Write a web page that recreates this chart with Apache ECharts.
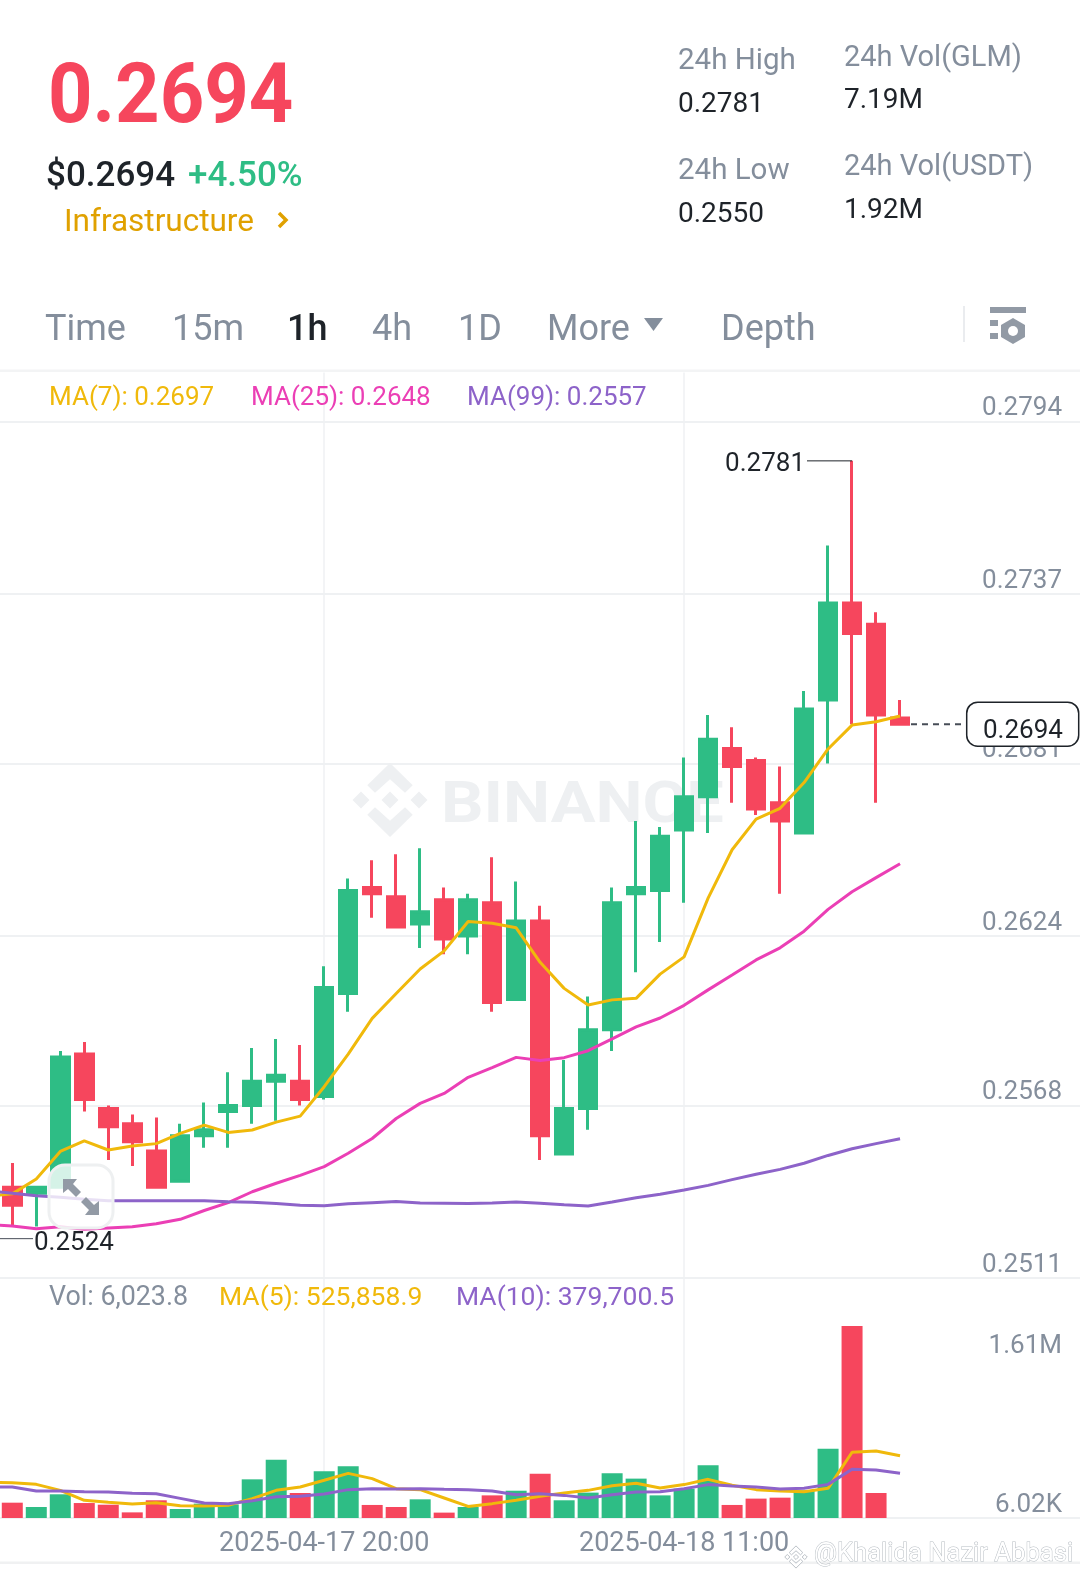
<!DOCTYPE html>
<html>
<head>
<meta charset="utf-8">
<title>GLM/USDT 1h</title>
<style>
html, body { margin: 0; padding: 0; background: #fff; }
#chart { width: 1080px; height: 1577px; }
</style>
<script src="https://cdn.jsdelivr.net/npm/echarts@6/dist/echarts.min.js"></script>
</head>
<body>
<div id="chart"></div>
<script>
// first slot sits just left of the screen, it carries the 0.2524 low and the line starts
const categories = [
  '2025-04-17 06:00','2025-04-17 07:00','2025-04-17 08:00','2025-04-17 09:00','2025-04-17 10:00','2025-04-17 11:00',
  '2025-04-17 12:00','2025-04-17 13:00','2025-04-17 14:00','2025-04-17 15:00','2025-04-17 16:00','2025-04-17 17:00',
  '2025-04-17 18:00','2025-04-17 19:00','2025-04-17 20:00','2025-04-17 21:00','2025-04-17 22:00','2025-04-17 23:00',
  '2025-04-18 00:00','2025-04-18 01:00','2025-04-18 02:00','2025-04-18 03:00','2025-04-18 04:00','2025-04-18 05:00',
  '2025-04-18 06:00','2025-04-18 07:00','2025-04-18 08:00','2025-04-18 09:00','2025-04-18 10:00','2025-04-18 11:00',
  '2025-04-18 12:00','2025-04-18 13:00','2025-04-18 14:00','2025-04-18 15:00','2025-04-18 16:00','2025-04-18 17:00',
  '2025-04-18 18:00','2025-04-18 19:00','2025-04-18 20:00','2025-04-18 21:00','2025-04-18 22:00','2025-04-18 23:00',
  '2025-04-19 00:00','2025-04-19 01:00','2025-04-19 02:00','2025-04-19 03:00'
];
const shownTimes = ['2025-04-17 20:00', '2025-04-18 11:00'];

const opens = [.2546,.2541,.2539,.2541,.2585,.2567,.2562,.2553,.2543,.2558,.2566,.2568,.2576,.2576,.2571,.2605,.2640,.2637,.2628,.2636,.2624,.2635,.2603,.2629,.2552,.2567,.2593,.2638,.2639,.2659,.2670,.2686,.2682,.2668,.2658,.2702,.2734,.2727,.2696];
const closes = [.2541,.2535,.2541,.2584,.2570,.2561,.2556,.2541,.2558,.2560,.2568,.2576,.2578,.2570,.2607,.2639,.2638,.2627,.2632,.2623,.2636,.2602,.2629,.2558,.2567,.2593,.2635,.2640,.2657,.2670,.2689,.2680,.2666,.2662,.2699,.2734,.2724,.2697,.2694];
const lows = [.2524,.2528,.2528,.2541,.2566,.2550,.2548,.2541,.2543,.2554,.2554,.2562,.2563,.2568,.2570,.2599,.2630,.2627,.2620,.2618,.2618,.2599,.2603,.2550,.2552,.2560,.2586,.2612,.2622,.2635,.2658,.2668,.2664,.2638,.2658,.2681,.2694,.2668,.2694];
const highs = [.2549,.2549,.2541,.2586,.2589,.2568,.2565,.2564,.2562,.2569,.2579,.2587,.2590,.2588,.2614,.2643,.2649,.2651,.2653,.2640,.2638,.2650,.2642,.2634,.2583,.2604,.2640,.2662,.2660,.2683,.2697,.2693,.2683,.2680,.2705,.2753,.2781,.2731,.2702];

const ma7 = [.25381,.25388,.25437,.25528,.25563,.25533,.25546,.25554,.25588,.25615,.25591,.25599,.25625,.25645,.25742,.2585,.25968,.2605,.26131,.26191,.26288,.26282,.26267,.26153,.26067,.26012,.26029,.26034,.26114,.26171,.26365,.26525,.26626,.26662,.26747,.26858,.26937,.26948,.26967];
const ma25 = [.25287,.25282,.25273,.25279,.25271,.25275,.25279,.25289,.25304,.25333,.25359,.25395,.25423,.25449,.25478,.25522,.25571,.25637,.25687,.2572,.25773,.25805,.25839,.25829,.25838,.25861,.259,.2594,.25969,.26011,.26062,.26111,.26161,.26201,.26256,.26328,.26386,.26433,.26479];
const ma99 = [.25398,.2539,.25382,.25377,.2537,.25365,.25365,.25365,.25365,.25365,.25362,.2536,.25356,.2535,.25349,.25355,.25359,.25363,.25358,.25357,.25356,.25358,.25361,.25357,.25352,.25348,.25361,.25375,.25387,.25401,.25416,.25435,.25453,.25469,.25489,.25515,.25537,.25554,.2557];

const volumes = [120000,134000,98000,204000,131000,117000,53000,154000,81000,126000,120000,329000,493000,215000,396000,438000,115000,98000,162000,51000,98000,195000,234000,376000,154000,218000,379000,335000,195000,251000,446000,115000,168000,176000,237000,585000,1610000,215000,6023.8];
const volMa5 = [304000,301000,287000,237000,154000,137000,123000,134000,109000,106000,112000,168000,237000,265000,321000,379000,335000,251000,243000,173000,103000,126000,154000,187000,215000,237000,276000,296000,257000,285000,329000,279000,243000,232000,226000,254000,555000,566000,525858.9];
const volMa10 = [265000,265000,232000,232000,226000,223000,212000,209000,170000,131000,126000,151000,184000,187000,207000,243000,251000,248000,251000,246000,243000,232000,201000,209000,195000,173000,201000,223000,226000,251000,285000,273000,265000,248000,254000,287000,413000,407000,379700.5];

const priceTicks = [0.2511, 0.2568, 0.2624, 0.2681, 0.2737, 0.2794];
const volTicks = [6020, 1610000];
const volTickLabels = ['6.02K', '1.61M'];
const lastPrice = 0.2694, periodHigh = 0.2781, periodLow = 0.2524;

const tabs = [['Time', 45], ['15m', 172], ['1h', 287], ['4h', 372], ['1D', 458], ['More', 547], ['Depth', 721]];

const GREEN = '#2EBD85', RED = '#F6465D', GRAY = '#848E9C', DARK = '#1E2329';
const YELLOW = '#F0B90B', PINK = '#EB3FB5', PURPLE = '#8D63C9', GRID = '#EFF1F3';
const FONT = 'Roboto';

let myChart = echarts.init(document.getElementById('chart'));

function xAxisBase(gridIndex) {
  return {
    type: 'category',
    gridIndex: gridIndex,
    data: categories,
    axisLine: { show: false },
    axisTick: { show: false, alignWithLabel: true },
    axisLabel: { show: false },
    splitLine: {
      show: true,
      alignWithLabel: true,
      interval: function (i, v) { return shownTimes.indexOf(v) >= 0; },
      lineStyle: { color: GRID, width: 1.5 }
    }
  };
}

function lineSeries(name, data, color, xi, yi) {
  return {
    name: name, type: 'line', data: data, xAxisIndex: xi, yAxisIndex: yi,
    symbol: 'none', smooth: false, silent: true, z: 5,
    lineStyle: { color: color, width: 3 }
  };
}

let xPrice = xAxisBase(0);
let xVol = xAxisBase(1);
xVol.axisLine = { show: true, onZero: false, lineStyle: { color: GRID, width: 2 } };
xVol.axisLabel = {
  show: true, color: GRAY, fontSize: 27, fontFamily: FONT, margin: 13,
  interval: function (i, v) { return shownTimes.indexOf(v) >= 0; }
};

let option = {
  animation: false,
  backgroundColor: '#fff',
  textStyle: { fontFamily: FONT },
  grid: [
    { left: -23.7, width: 1103.7, top: 372.5, height: 905.5, outerBoundsMode: 'none' },
    { left: -23.7, width: 1103.7, top: 1278, height: 240, outerBoundsMode: 'none' }
  ],
  xAxis: [xPrice, xVol],
  yAxis: [
    {
      type: 'value', position: 'right', gridIndex: 0, min: 0.2511, max: 0.28102,
      axisLine: { show: false },
      axisTick: { show: false, customValues: priceTicks },
      splitLine: { show: true, lineStyle: { color: GRID, width: 2 } },
      axisLabel: {
        inside: true, customValues: priceTicks, color: GRAY, fontSize: 26, fontFamily: FONT,
        margin: 18, verticalAlign: 'bottom',
        formatter: function (v) { return v.toFixed(4); }
      }
    },
    {
      type: 'value', position: 'right', gridIndex: 1, min: 6020, max: 2011000,
      axisLine: { show: false },
      axisTick: { show: false, customValues: volTicks },
      splitLine: { show: false },
      axisLabel: {
        inside: true, customValues: volTicks, color: GRAY, fontSize: 26, fontFamily: FONT,
        margin: 18, verticalAlign: 'middle',
        formatter: function (v) {
          let i = volTicks.indexOf(v);
          return (i === 1 ? '{hi|' : '{lo|') + volTickLabels[i] + '}';
        },
        rich: {
          hi: { color: GRAY, fontSize: 26, fontFamily: FONT, padding: [40, 0, 0, 0] },
          lo: { color: GRAY, fontSize: 26, fontFamily: FONT, padding: [0, 0, 26, 0] }
        }
      }
    }
  ],
  series: [
    {
      name: 'Kline', type: 'candlestick', xAxisIndex: 0, yAxisIndex: 0, barWidth: 18, silent: true, z: 3,
      data: opens.map(function (o, i) { return [o, closes[i], lows[i], highs[i]]; }),
      itemStyle: { color: GREEN, color0: RED, borderColor: GREEN, borderColor0: RED, borderWidth: 3 }
    },
    lineSeries('MA7', ma7, YELLOW, 0, 0),
    lineSeries('MA25', ma25, PINK, 0, 0),
    lineSeries('MA99', ma99, PURPLE, 0, 0),
    {
      name: 'Vol', type: 'bar', xAxisIndex: 1, yAxisIndex: 1, barWidth: 21, silent: true, z: 3,
      data: volumes,
      itemStyle: {
        color: function (p) { return closes[p.dataIndex] >= opens[p.dataIndex] ? GREEN : RED; }
      }
    },
    lineSeries('VolMA5', volMa5, YELLOW, 1, 1),
    lineSeries('VolMA10', volMa10, PURPLE, 1, 1)
  ]
};
myChart.setOption(option);

// text helper, y is the baseline
function txt(x, base, text, size, color, weight, align, extra) {
  let el = {
    type: 'text', x: x, y: base - size * 0.22, z: 20,
    style: {
      x: 0, y: 0, text: text, fontSize: size, fontFamily: FONT, fontWeight: weight || 400,
      fill: color, align: align || 'left', verticalAlign: 'middle'
    }
  };
  return Object.assign(el, extra || {});
}

function poly(points, fill, z, extra) {
  return { type: 'polygon', z: z, shape: { points: points }, style: Object.assign({ fill: fill }, extra || {}) };
}

function rect(x, y, w, h, fill, z) {
  return { type: 'rect', z: z, shape: { x: x, y: y, width: w, height: h }, style: { fill: fill } };
}

function line(x1, x2, y, color, w, dash) {
  return {
    type: 'line', z: 20, shape: { x1: x1, y1: y, x2: x2, y2: y },
    style: { stroke: color, lineWidth: w, lineDash: dash || null }
  };
}

// binance diamond mark around cx,cy
function logo(cx, cy, s, fill, z, extra) {
  function p(list) { return list.map(function (c) { return [cx + c[0] * s, cy + c[1] * s]; }); }
  function diamond(dx) { return p([[dx, -8.5], [dx + 8.5, 0], [dx, 8.5], [dx - 8.5, 0]]); }
  return [
    poly(p([[0, -37], [22.7, -14.7], [15, -7.3], [0, -20.7], [-15, -7.3], [-22.7, -14.7]]), fill, z, extra),
    poly(p([[0, 37], [22.7, 14.7], [15, 7.3], [0, 20.7], [-15, 7.3], [-22.7, 14.7]]), fill, z, extra),
    poly(diamond(0), fill, z, extra),
    poly(diamond(-29), fill, z, extra),
    poly(diamond(29), fill, z, extra)
  ];
}

let yLast = myChart.convertToPixel({ yAxisIndex: 0 }, lastPrice);
let yHigh = myChart.convertToPixel({ yAxisIndex: 0 }, periodHigh);
let yLow = myChart.convertToPixel({ yAxisIndex: 0 }, periodLow);
let xHigh = myChart.convertToPixel({ xAxisIndex: 0 }, categories[highs.indexOf(periodHigh)]);

let els = [];

// header block
els.push(txt(48, 119, '0.2694', 84, RED, 700, 'left', { scaleX: 0.925 }));
els.push(txt(46, 185, '$0.2694', 35, DARK, 500));
els.push(txt(188, 185, '+4.50%', 35, GREEN, 500));
els.push(txt(64, 230, 'Infrastructure', 31.5, '#E0A100'));
els.push({
  type: 'polyline', z: 20, shape: { points: [[279, 213], [286, 220], [279, 227]] },
  style: { stroke: '#E0A100', lineWidth: 3.5, fill: 'none' }
});
els.push(txt(678, 68, '24h High', 29.5, GRAY));
els.push(txt(678, 111, '0.2781', 28, DARK));
els.push(txt(678, 178, '24h Low', 29.5, GRAY));
els.push(txt(678, 221, '0.2550', 28, DARK));
els.push(txt(844, 65, '24h Vol(GLM)', 29, GRAY));
els.push(txt(844, 107, '7.19M', 28, DARK));
els.push(txt(844, 174, '24h Vol(USDT)', 29, GRAY));
els.push(txt(844, 217, '1.92M', 28, DARK));

// interval tabs
tabs.forEach(function (t) {
  let on = t[0] === '1h';
  els.push(txt(t[1], 339, t[0], 36, on ? DARK : GRAY, on ? 500 : 400));
});
els.push(poly([[644, 318], [663, 318], [653.5, 331]], GRAY, 20));
els.push(rect(963, 306, 2, 36, '#EAECEF', 20));
els.push(rect(990, 307, 36, 6, '#929AA5', 20));
els.push(rect(990, 320, 8, 6, '#929AA5', 20));
els.push(rect(990, 333, 8, 6, '#929AA5', 20));
els.push(poly([[1013, 318], [1025, 325], [1025, 337], [1013, 344], [1001, 337], [1001, 325]], '#929AA5', 20));
els.push({ type: 'circle', z: 21, shape: { cx: 1013, cy: 331, r: 5 }, style: { fill: '#fff' } });
els.push(rect(0, 369.5, 1080, 2.5, '#F3F4F5', 20));
els.push(rect(0, 1561.5, 1080, 2.5, '#F0F1F2', 20));

// legends
els.push(txt(49, 404, 'MA(7): 0.2697', 26, YELLOW));
els.push(txt(251, 404, 'MA(25): 0.2648', 26, PINK));
els.push(txt(467, 404, 'MA(99): 0.2557', 26, PURPLE));
els.push(txt(49, 1304, 'Vol: 6,023.8', 26.8, GRAY));
els.push(txt(219, 1304, 'MA(5): 525,858.9', 26.5, YELLOW));
els.push(txt(456, 1304, 'MA(10): 379,700.5', 26.5, PURPLE));

// watermark behind the candles
logo(390, 800, 1, '#EEF0F2', 1).forEach(function (e) { els.push(e); });
let mark = txt(441, 820, 'BINANCE', 57, '#EEF0F2', 700, 'left', { scaleX: 1.17 });
mark.z = 1;
els.push(mark);

// high / low / last price markers
els.push(line(807, xHigh, yHigh, DARK, 1));
els.push(txt(805, yHigh + 9, periodHigh.toFixed(4), 26, DARK, 400, 'right'));
els.push(line(0, 33, yLow, '#474D57', 1));
els.push(txt(34, yLow + 11, periodLow.toFixed(4), 26, DARK));
els.push(line(911, 966, yLast, '#474D57', 2, [6, 5]));
els.push({
  type: 'rect', z: 20, shape: { x: 966.7, y: yLast - 22, width: 112, height: 44, r: 11 },
  style: { fill: '#fff', stroke: DARK, lineWidth: 1.5 }
});
els.push(txt(983, yLast + 13.5, lastPrice.toFixed(4), 26, DARK, 400, 'left', { z: 21 }));

// expand button over the chart
els.push({
  type: 'rect', z: 30, shape: { x: 49, y: 1165, width: 64, height: 63, r: 16 },
  style: { fill: 'rgba(255,255,255,0.8)', stroke: '#EEF0F1', lineWidth: 3 }
});
els.push(poly([[63, 1179], [77, 1179], [73, 1184], [81, 1192], [76, 1197], [68, 1189], [63, 1193]], '#929AA5', 31));
els.push(poly([[99, 1215], [85, 1215], [89, 1210], [81, 1202], [86, 1197], [94, 1205], [99, 1201]], '#929AA5', 31));

// author tag at the bottom
logo(796, 1557, 0.3, '#fff', 32, { stroke: '#BCC2C8', lineWidth: 1 }).forEach(function (e) { els.push(e); });
els.push({
  type: 'text', x: 814, y: 1555, z: 32,
  style: {
    x: 0, y: 0, text: '@Khalida Nazir Abbasi', fontSize: 25.6, fontFamily: FONT, fill: '#fff',
    stroke: '#B7BDC3', lineWidth: 1, verticalAlign: 'middle'
  }
});

myChart.setOption({ graphic: { elements: els } });
</script>
</body>
</html>
